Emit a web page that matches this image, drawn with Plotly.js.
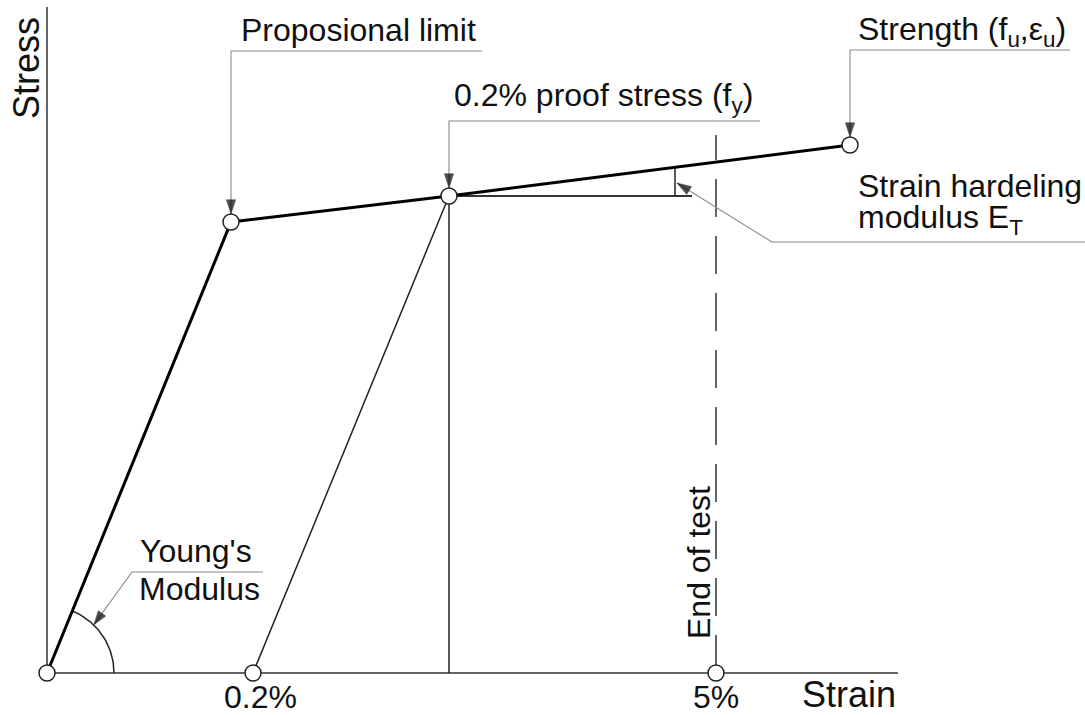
<!DOCTYPE html>
<html>
<head>
<meta charset="utf-8">
<script src="https://cdn.plot.ly/plotly-3.0.1.min.js"></script>
<style>body{margin:0;background:#fff}</style>
</head>
<body>
<div id="plot" style="width:1085px;height:715px"></div>
<script>
// schematic stress-strain curve (arbitrary units)
// points: origin, proportional limit, 0.2% proof stress, strength
var strain = [0, 184, 402, 803];
var stress = [0, 451, 477, 528];

// marks on the strain axis
var offsetStrain = 206;   // 0.2% offset
var endStrain = 669;      // 5% - end of test
var tickStrain = [offsetStrain, endStrain];
var tickLabels = ["0.2%", "5%"];

// hardening triangle
var triEnd = 645;
var triLeg = 628;

// axis extents
var xMax = 851;
var yMax = 666;
var endTop = 538;

function stressAt(e) {
    var t = (e - strain[2]) / (strain[3] - strain[2]);
    return stress[2] + t * (stress[3] - stress[2]);
}

var thin = {color: "#222", width: 1.5};
var grey = {color: "#8a8a8a", width: 1.1};

function line(xs, ys, style) {
    return {x: xs, y: ys, type: "scatter", mode: "lines", line: style, hoverinfo: "skip"};
}

// angle arc for the Young's modulus
var arcR = 67;
var arcEnd = Math.atan2(stress[1], strain[1]);
var arcX = [], arcY = [];
for (let i = 0; i <= 40; i++) {
    let a = arcEnd * i / 40;
    arcX.push(arcR * Math.cos(a));
    arcY.push(arcR * Math.sin(a));
}
var youngTip = [arcR * Math.cos(0.8), arcR * Math.sin(0.8)];

// leader lines (last point is where the arrow points)
var leaders = [
    {x: [435, strain[1], strain[1]], y: [622, 622, stress[1]], gap: 8},
    {x: [713, strain[2], strain[2]], y: [552, 552, stress[2]], gap: 8},
    {x: [1023, strain[3], strain[3]], y: [623, 623, stress[3]], gap: 8},
    {x: [1040, 725, 630], y: [431, 431, 490], gap: 0},
    {x: [216, 85, youngTip[0]], y: [101, 101, youngTip[1]], gap: 0}
];

var data = [
    line([0, 0], [0, yMax], {color: "#333", width: 1.5}),
    line([0, xMax], [0, 0], {color: "#333", width: 1.5}),
    line([offsetStrain, strain[2]], [0, stress[2]], thin),
    line([strain[2], strain[2]], [stress[2], 0], thin),
    line([strain[2], triEnd], [stress[2], stress[2]], {color: "#333", width: 1.8}),
    line([triLeg, triLeg], [stress[2], stressAt(triLeg)], thin),
    line([endStrain, endStrain], [0, endTop], {color: "#333", width: 1.5, dash: "38px,19px"}),
    line(arcX, arcY, thin),
    line(strain, stress, {color: "#000", width: 3})
];

// leader lines with an arrow head on the last point
leaders.forEach(function (ld) {
    var n = ld.x.length;
    var tr = line(ld.x, ld.y, grey);
    tr.mode = "lines+markers";
    tr.marker = {
        symbol: "arrow",
        angleref: "previous",
        size: ld.x.map(function (v, i) { return i === n - 1 ? 15 : 0; }),
        standoff: ld.x.map(function (v, i) { return i === n - 1 ? ld.gap : 0; }),
        color: "#000",
        line: {width: 0.5, color: "#000"}
    };
    data.push(tr);
});

// circles at the key points
data.push({
    x: strain.concat(tickStrain),
    y: stress.concat([0, 0]),
    type: "scatter", mode: "markers", hoverinfo: "skip",
    marker: {symbol: "circle", size: 16, color: "#fff", line: {color: "#222", width: 1.5}}
});

var font = {family: "Liberation Sans, Arial, sans-serif", size: 32, color: "#111"};
var big = {family: "Liberation Sans, Arial, sans-serif", size: 36, color: "#111"};

function label(text, x, y, xanchor, f, angle) {
    return {
        text: text, x: x, y: y, xref: "x", yref: "y",
        xanchor: xanchor, yanchor: "middle", showarrow: false,
        font: f || font, textangle: angle || 0
    };
}

var annotations = [
    label("Proposional limit", 192, 643, "left"),
    label("0.2% proof stress (f<sub>y</sub>)", 405, 576, "left"),
    label("Strength (f<sub>u</sub>,ε<sub>u</sub>)", 809, 642, "left"),
    label("Strain hardeling", 809, 487, "left"),
    label("modulus E<sub>T</sub>", 809, 454, "left"),
    label("Young's", 91, 122, "left"),
    label("Modulus", 90, 84, "left"),
    label("End of test", 652, 110, "center", font, -90),
    label("Stress", -21, 605, "center", big, -90),
    label("Strain", xMax, -21, "right", big)
];
tickStrain.forEach(function (s, i) {
    annotations.push(label(tickLabels[i], s + (i === 0 ? 7 : 0), -24, "center"));
});

var layout = {
    width: 1085,
    height: 715,
    margin: {l: 0, r: 0, t: 0, b: 0, pad: 0},
    showlegend: false,
    paper_bgcolor: "#fff",
    plot_bgcolor: "#fff",
    xaxis: {range: [-47, 1038], visible: false, fixedrange: true},
    yaxis: {range: [-42, 673], visible: false, fixedrange: true},
    annotations: annotations
};

Plotly.newPlot("plot", data, layout, {staticPlot: true, displayModeBar: false});
</script>
</body>
</html>
